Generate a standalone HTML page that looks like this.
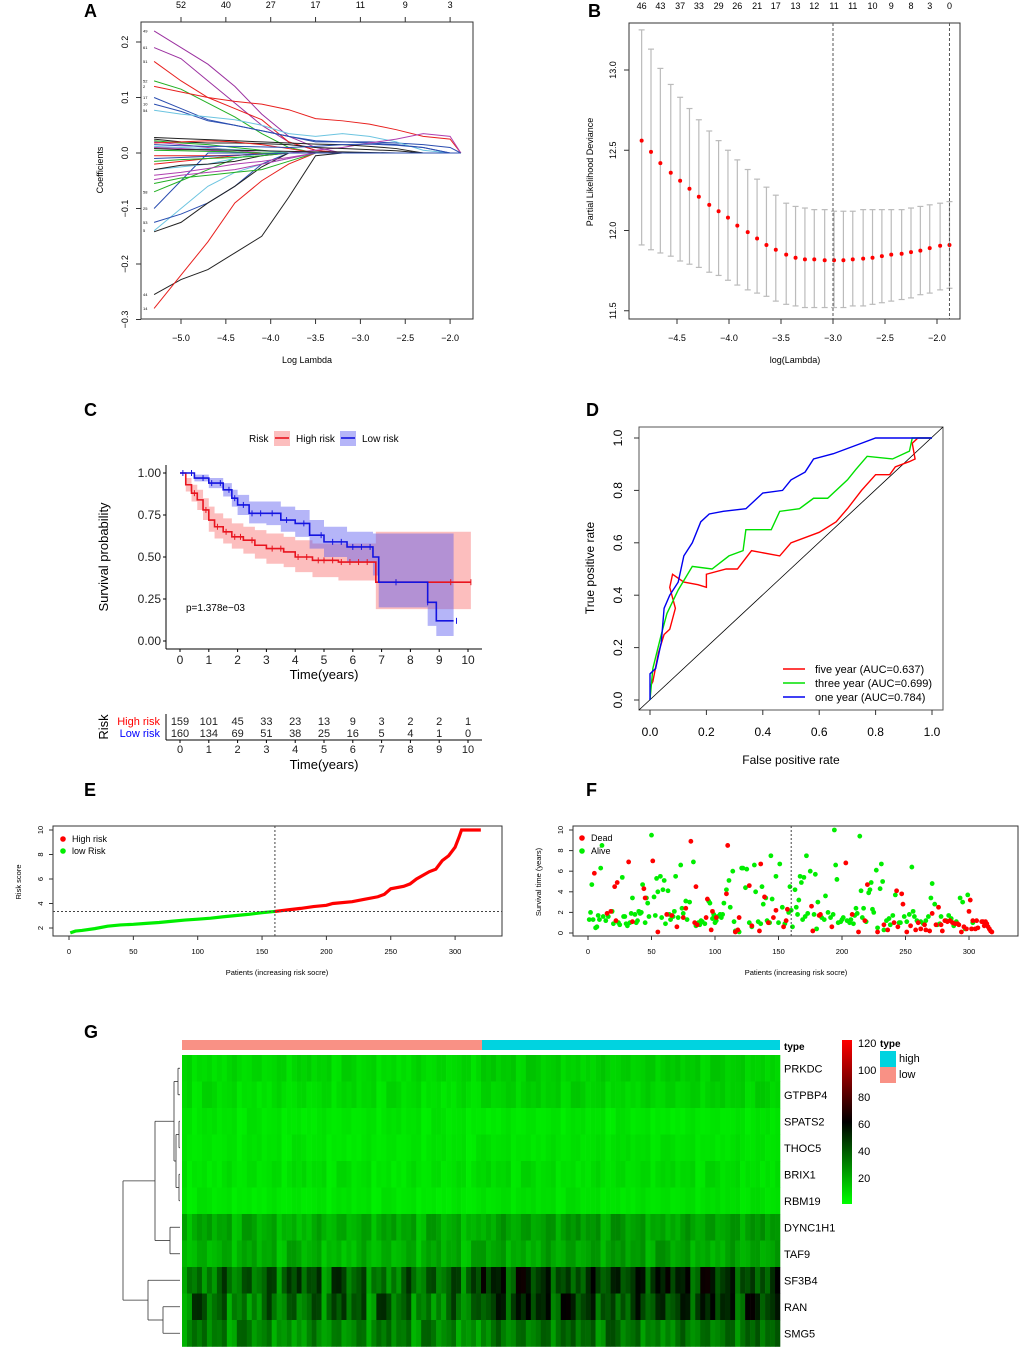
<!DOCTYPE html>
<html><head><meta charset="utf-8"><style>
html,body{margin:0;padding:0;background:#fff;}
svg{display:block;font-family:"Liberation Sans",Arial,sans-serif;}
</style></head><body>
<svg id="fig" width="1020" height="1347" viewBox="0 0 1020 1347" xmlns="http://www.w3.org/2000/svg"></svg>
<script>
// ---------- DATA ----------
// Panel A
const aLambda=[-5.3,-5.0,-4.7,-4.4,-4.1,-3.8,-3.5,-3.2,-2.9,-2.6,-2.3,-2.0,-1.88];
const aTopLabels=["52","40","27","17","11","9","3"];
const aCoefs=[
 {c:"#9b30a0",v:[0.22,0.19,0.16,0.12,0.07,0.03,0.01,0,0,0,0,0,0]},
 {c:"#9b30a0",v:[0.19,0.17,0.13,0.09,0.05,0.02,0.005,0,0,0,0,0,0]},
 {c:"#e8201e",v:[0.165,0.13,0.10,0.08,0.06,0.02,0.005,0,0,0,0,0,0]},
 {c:"#22b022",v:[0.13,0.115,0.09,0.065,0.035,0.01,0,0,0,0,0,0,0]},
 {c:"#e8201e",v:[0.12,0.11,0.10,0.093,0.088,0.078,0.062,0.058,0.052,0.042,0.03,0.025,0]},
 {c:"#2a4db0",v:[0.10,0.08,0.06,0.05,0.04,0.03,0.022,0.02,0.018,0.015,0.01,0,0]},
 {c:"#2a4db0",v:[0.088,0.075,0.058,0.05,0.04,0.03,0.02,0.02,0.02,0.018,0.015,0.01,0]},
 {c:"#6cc4e0",v:[0.077,0.07,0.065,0.06,0.05,0.035,0.03,0.035,0.03,0.02,0.005,0,0]},
 {c:"#b040b0",v:[0.02,0.015,0.01,0.005,0,0,0.005,0.01,0.018,0.025,0.035,0.03,0]},
 {c:"#222222",v:[-0.255,-0.228,-0.21,-0.18,-0.15,-0.08,-0.005,0,0,0,0,0,0]},
 {c:"#e8201e",v:[-0.28,-0.22,-0.16,-0.09,-0.05,-0.02,0,0,0,0,0,0,0]},
 {c:"#6cc4e0",v:[-0.14,-0.1,-0.06,-0.035,-0.02,-0.01,0,0,0,0,0,0,0]},
 {c:"#2a4db0",v:[-0.125,-0.11,-0.09,-0.06,-0.02,0,0,0,0,0,0,0,0]},
 {c:"#222222",v:[-0.142,-0.125,-0.09,-0.06,-0.025,0,0,0,0,0,0,0,0]},
 {c:"#2a4db0",v:[-0.1,-0.05,0,0,0,0,0,0,0,0,0,0,0]},
 {c:"#22b022",v:[-0.07,-0.05,-0.03,-0.01,0,0,0,0,0,0,0,0,0]},
 {c:"#22b022",v:[-0.055,-0.045,-0.04,-0.035,-0.03,-0.015,0,0,0,0,0,0,0]},
 {c:"#b040b0",v:[-0.048,-0.04,-0.035,-0.03,-0.02,-0.01,0,0,0,0,0,0,0]},
 {c:"#b040b0",v:[-0.04,-0.035,-0.028,-0.02,-0.015,-0.008,0,0,0,0,0,0,0]},
 {c:"#6cc4e0",v:[-0.03,-0.025,-0.02,-0.01,0,0,0,0,0,0,0,0,0]},
 {c:"#222222",v:[-0.03,-0.022,-0.02,-0.015,-0.005,0,0,0,0,0,0,0,0]},
 {c:"#e8201e",v:[-0.02,-0.015,-0.01,-0.005,0,0,0,0,0,0,0,0,0]},
 {c:"#22b022",v:[-0.015,-0.012,-0.01,-0.008,-0.005,0,0,0,0,0,0,0,0]},
 {c:"#e8201e",v:[-0.005,-0.005,-0.005,-0.004,-0.002,0,0,0,0,0,0,0,0]},
 {c:"#222222",v:[0.028,0.026,0.024,0.022,0.02,0.018,0.016,0.015,0.012,0.008,0,0,0]},
 {c:"#222222",v:[0.025,0.02,0.018,0.018,0.017,0.015,0.01,0.008,0.006,0.004,0,0,0]},
 {c:"#22b022",v:[0.022,0.018,0.015,0.01,0.005,0,0,0,0,0,0,0,0]},
 {c:"#e8201e",v:[0.018,0.02,0.022,0.02,0.015,0.008,0,0,0,0,0,0,0]},
 {c:"#2a4db0",v:[0.015,0.013,0.012,0.012,0.011,0.01,0.012,0.015,0.016,0.014,0.01,0,0]},
 {c:"#6cc4e0",v:[0.012,0.01,0.008,0.006,0.004,0,0,0,0,0,0,0,0]},
 {c:"#b040b0",v:[0.01,0.008,0.005,0.002,0,0,0,0,0,0,0,0,0]},
 {c:"#222222",v:[0.008,0.006,0.006,0.005,0.004,0.003,0.002,0.002,0.001,0,0,0,0]},
 {c:"#22b022",v:[0.005,0.004,0.003,0.002,0,0,0,0,0,0,0,0,0]},
 {c:"#2a4db0",v:[-0.01,-0.008,-0.006,-0.004,-0.002,0,0,0,0,0,0,0,0]}
];
const aSideLabels=["49","61","51","52","2","17","10","54","25","53","5","44","14","58"];
const aSideVals=[0.22,0.19,0.165,0.13,0.12,0.10,0.088,0.077,-0.1,-0.125,-0.14,-0.255,-0.28,-0.07];
// Panel B
const bLambda=[-4.84,-4.75,-4.66,-4.56,-4.47,-4.38,-4.29,-4.19,-4.10,-4.01,-3.92,-3.82,-3.73,-3.64,-3.55,-3.45,-3.36,-3.27,-3.18,-3.08,-2.99,-2.90,-2.81,-2.71,-2.62,-2.53,-2.44,-2.34,-2.25,-2.16,-2.07,-1.97,-1.88];
const bMean=[12.56,12.49,12.42,12.36,12.31,12.26,12.21,12.16,12.12,12.08,12.03,11.99,11.95,11.91,11.88,11.85,11.83,11.82,11.82,11.815,11.815,11.815,11.82,11.825,11.83,11.84,11.85,11.855,11.865,11.875,11.89,11.905,11.91];
const bUpper=[13.25,13.13,13.01,12.91,12.83,12.76,12.69,12.62,12.56,12.50,12.44,12.38,12.32,12.27,12.22,12.17,12.15,12.14,12.13,12.13,12.12,12.12,12.12,12.13,12.13,12.13,12.13,12.13,12.14,12.15,12.16,12.17,12.18];
const bLower=[11.91,11.88,11.86,11.84,11.81,11.79,11.77,11.74,11.72,11.69,11.66,11.63,11.61,11.59,11.56,11.54,11.53,11.52,11.52,11.52,11.52,11.52,11.53,11.53,11.54,11.55,11.56,11.57,11.58,11.60,11.61,11.63,11.64];
const bTopLabels=["46","43","37","33","29","26","21","17","13","12","11","11","10","9","8","3","0"];
// Panel C
const cHighT=[0,0.2,0.4,0.6,0.8,1.0,1.2,1.5,1.8,2.2,2.6,3.0,3.6,4.0,4.6,5.5,6.8,10.1];
const cHighS=[1,0.93,0.88,0.84,0.78,0.72,0.68,0.65,0.62,0.6,0.57,0.55,0.53,0.5,0.48,0.47,0.35,0.35];
const cHighLo=[1,0.89,0.83,0.78,0.72,0.65,0.61,0.58,0.55,0.52,0.49,0.46,0.44,0.41,0.38,0.36,0.19,0.19];
const cHighHi=[1,0.97,0.93,0.9,0.85,0.8,0.76,0.73,0.7,0.68,0.66,0.64,0.62,0.6,0.58,0.58,0.65,0.65];
const cLowT=[0,0.5,1.0,1.5,1.8,2.0,2.4,3.0,3.5,4.0,4.5,5.0,5.8,6.7,6.9,8.6,8.9,9.5];
const cLowS=[1,0.97,0.94,0.9,0.85,0.81,0.76,0.76,0.72,0.70,0.63,0.59,0.56,0.5,0.35,0.23,0.12,0.12];
const cLowLo=[1,0.95,0.91,0.86,0.8,0.75,0.7,0.69,0.65,0.62,0.55,0.5,0.47,0.39,0.2,0.09,0.03,0.03];
const cLowHi=[1,0.99,0.97,0.94,0.9,0.87,0.83,0.83,0.8,0.78,0.72,0.68,0.65,0.64,0.64,0.64,0.64,0.64];
const cHighCens=[0.5,0.9,1.3,1.6,1.9,2.1,2.5,3.2,3.5,4.1,4.4,4.8,5.0,5.3,5.6,5.9,6.2,6.5,7.5,9.4,10.1];
const cLowCens=[0.1,0.4,0.8,1.1,1.4,1.7,1.9,2.2,2.5,2.8,3.2,3.7,4.3,4.9,5.3,5.6,6.0,6.3,6.6,7.5,8.6,9.6];
const cRiskHigh=["159","101","45","33","23","13","9","3","2","2","1"];
const cRiskLow=["160","134","69","51","38","25","16","5","4","1","0"];
// Panel D
const dBlueF=[0,0,0.02,0.04,0.05,0.07,0.1,0.12,0.15,0.18,0.21,0.26,0.34,0.4,0.47,0.5,0.55,0.58,0.65,0.7,0.75,0.8,1];
const dBlueT=[0,0.1,0.12,0.22,0.35,0.4,0.45,0.55,0.6,0.68,0.71,0.72,0.73,0.79,0.8,0.84,0.87,0.92,0.94,0.96,0.98,1,1];
const dGreenF=[0,0.01,0.04,0.06,0.1,0.15,0.22,0.28,0.33,0.34,0.43,0.46,0.53,0.58,0.63,0.7,0.73,0.77,0.86,0.92,0.93,1];
const dGreenT=[0,0.12,0.25,0.33,0.42,0.51,0.5,0.55,0.57,0.65,0.65,0.72,0.73,0.77,0.77,0.84,0.88,0.93,0.92,0.95,1,1];
const dRedF=[0,0.01,0.03,0.05,0.07,0.09,0.07,0.08,0.12,0.17,0.2,0.2,0.27,0.31,0.36,0.46,0.5,0.6,0.66,0.7,0.75,0.8,0.85,0.87,0.92,0.94,0.93,0.95,1];
const dRedT=[0.05,0.07,0.18,0.25,0.27,0.35,0.43,0.48,0.45,0.44,0.43,0.48,0.5,0.5,0.57,0.55,0.6,0.64,0.68,0.73,0.8,0.86,0.86,0.89,0.91,0.92,0.98,1,1];
const dLegend=["five year (AUC=0.637)","three year (AUC=0.699)","one year (AUC=0.784)"];
// Panel E
const ePatient=[1,5,10,20,30,40,50,60,70,80,90,100,110,120,130,140,150,160,170,180,190,200,205,220,230,240,245,250,260,265,270,280,285,290,295,300,303,305,320];
const eScore=[1.6,1.75,1.8,1.95,2.15,2.25,2.3,2.38,2.45,2.55,2.65,2.72,2.8,2.92,3.02,3.12,3.25,3.35,3.48,3.6,3.75,3.85,4.0,4.15,4.35,4.55,4.75,5.2,5.4,5.6,6.0,6.6,6.8,7.5,7.9,8.6,9.4,10.0,10.0];
// Panel F
const fAlive=[[3,4.7],[2,2.0],[1,1.3],[4,1.3],[6,0.5],[7,0.6],[8,1.7],[9,1.3],[10,6.3],[11,8.5],[12,1.6],[14,1.2],[16,1.6],[19,2.1],[20,0.9],[24,1.0],[25,0.8],[27,5.4],[28,1.6],[29,1.6],[30,0.9],[31,0.7],[33,1.0],[34,1.9],[35,3.4],[37,1.8],[38,1.0],[39,1.2],[40,2.1],[41,1.9],[42,2.0],[43,4.7],[45,1.0],[46,3.4],[47,2.9],[48,1.6],[50,9.5],[52,3.5],[53,1.7],[54,5.3],[55,4.0],[57,5.5],[58,1.5],[59,4.2],[60,5.1],[61,0.9],[63,4.1],[64,1.8],[65,1.3],[67,1.6],[68,2.1],[69,5.5],[71,1.5],[73,6.6],[74,2.4],[75,1.9],[77,3.1],[78,1.3],[80,3.0],[83,6.9],[85,0.7],[87,1.0],[88,0.8],[89,1.2],[90,1.1],[92,0.9],[95,3.1],[96,2.9],[98,1.4],[99,1.8],[100,1.0],[101,1.2],[102,1.6],[104,1.8],[105,1.5],[106,1.8],[107,2.9],[109,4.2],[111,5.1],[112,2.5],[114,6.0],[115,1.1],[116,0.2],[119,0.1],[121,6.3],[122,6.3],[124,4.4],[125,6.2],[127,1.0],[129,0.6],[131,6.6],[132,4.0],[134,1.1],[136,0.9],[137,4.5],[138,2.8],[140,3.4],[141,1.2],[143,1.0],[144,7.5],[145,3.3],[148,5.5],[150,1.0],[151,6.7],[153,2.5],[155,0.9],[158,2.0],[159,4.5],[160,2.2],[161,0.6],[163,4.2],[164,2.5],[165,1.8],[166,3.2],[167,5.5],[168,4.9],[169,1.3],[170,5.4],[171,1.6],[172,7.5],[173,1.9],[175,6.0],[178,1.8],[179,5.7],[180,0.4],[181,3.0],[184,1.5],[186,1.3],[187,3.6],[189,2.0],[191,1.5],[193,1.8],[194,10.0],[195,6.6],[196,5.2],[197,1.0],[199,1.1],[200,1.3],[201,1.5],[204,1.2],[206,1.0],[207,1.3],[209,0.9],[210,1.7],[211,2.4],[212,1.9],[214,9.4],[215,4.1],[216,1.5],[217,2.4],[219,1.1],[221,3.9],[222,4.2],[223,4.9],[224,2.3],[225,2.0],[227,6.1],[228,0.5],[230,4.3],[231,6.7],[232,5.0],[233,0.3],[235,1.2],[237,1.4],[238,0.8],[240,1.7],[242,3.7],[245,1.0],[246,1.0],[249,1.6],[251,1.1],[253,1.8],[255,6.4],[256,2.1],[257,1.6],[259,1.2],[262,1.1],[264,0.9],[266,1.2],[268,1.6],[270,3.4],[271,4.8],[273,2.8],[275,0.8],[277,0.9],[278,1.6],[282,1.2],[284,1.7],[286,1.4],[288,0.7],[290,1.1],[293,3.4],[295,3.0],[297,0.4],[299,3.7],[303,1.0]];
const fDead=[[5,5.8],[15,1.9],[18,2.1],[21,4.5],[22,1.2],[23,4.9],[32,6.9],[35,1.1],[44,4.3],[45,3.4],[51,7.0],[55,0.1],[62,1.8],[66,1.7],[70,0.6],[75,1.5],[77,2.4],[81,8.9],[84,1.0],[85,4.5],[86,0.8],[93,1.5],[94,3.3],[97,0.3],[98,2.1],[101,1.5],[109,3.8],[110,8.5],[116,0.1],[118,0.3],[119,1.5],[127,4.6],[129,0.7],[135,0.2],[136,6.7],[139,3.5],[142,1.0],[146,1.5],[148,2.2],[154,0.6],[156,1.2],[157,2.3],[176,2.6],[177,0.2],[182,1.7],[183,1.8],[192,0.6],[203,6.8],[208,1.8],[213,0.1],[218,1.2],[220,4.7],[228,0.1],[233,0.8],[236,0.3],[241,1.0],[243,4.1],[244,0.6],[247,3.8],[248,2.8],[251,0.1],[254,0.7],[258,0.3],[260,1.0],[262,0.4],[265,0.8],[266,0.3],[269,0.2],[271,1.9],[274,0.8],[276,2.5],[278,0.8],[279,0.2],[281,1.2],[283,1.1],[285,1.2],[287,1.0],[289,0.9],[291,0.9],[292,0.8],[294,0.1],[296,0.6],[298,0.4],[300,2.1],[301,3.2],[302,0.4],[303,1.2],[305,0.4],[306,1.2],[307,0.5],[310,1.1],[311,1.1],[312,0.7],[313,1.1],[314,0.9],[315,0.6],[316,0.4],[317,0.2],[318,0.1]];
// Panel G
const gGenes=["PRKDC","GTPBP4","SPATS2","THOC5","BRIX1","RBM19","DYNC1H1","TAF9","SF3B4","RAN","SMG5"];
const gLowBase=[13,12,10,10,11,10,22,21,38,36,30];
const gHighBase=[15,14,10,11,12,11,25,24,48,46,34];
const gSpread=[3,3,2,2,3,2,6,6,16,16,10];
const gNoise=[0.2,-0.5,0.9,-0.1,0.4,-0.8,0.1,0.6,-0.3,0.95,-0.6,0.3,-0.2,0.7,-0.9,0.0,0.5,-0.4,0.8,-0.7,0.25,-0.15,0.65,-0.45,0.35,-0.95,0.15,0.85,-0.35,0.55,-0.05,0.45,-0.65,0.75,-0.25,0.05,-0.85];
const gKeyTicks=[20,40,60,80,100,120];

// ---------- HELPERS ----------
const NS="http://www.w3.org/2000/svg";
const svg=document.getElementById("fig");
function mk(tag,attrs,parent){const e=document.createElementNS(NS,tag);for(const k in attrs)e.setAttribute(k,attrs[k]);(parent||svg).appendChild(e);return e;}
function txt(x,y,s,size,attrs,parent){const e=mk("text",Object.assign({x:x,y:y,"font-size":size,fill:"#000"},attrs||{}),parent);e.textContent=s;return e;}
function grp(name){const g=mk("g",{});return g;}

// Panel letters
[["A",84,17],["B",588,17],["C",84,416],["D",586,416],["E",84,796],["F",586,796],["G",84,1038]].forEach(p=>{
 const t=txt(p[1],p[2],p[0],18,{"font-weight":"bold"});
 
 
});

// ---------- PANEL A ----------
(function(){
 const g=grp("panel-a-lasso-coefficients");
 const X=v=>181+(v+5)*89.7, Y=v=>153-v*555;
 const box=mk("rect",{x:141,y:22,width:332,height:297,fill:"none",stroke:"#333","stroke-width":1},g);
 
 aCoefs.forEach((s,i)=>{
  const pts=aLambda.map((l,j)=>X(l)+","+Y(s.v[j])).join(" ");
  const p=mk("polyline",{points:pts,fill:"none",stroke:s.c,"stroke-width":1},g);
  
 });
 [-5,-4.5,-4,-3.5,-3,-2.5,-2].forEach((v,i)=>{
  mk("line",{x1:X(v),x2:X(v),y1:319,y2:324,stroke:"#333"},g);
  txt(X(v),341,v.toFixed(1).replace("-","−"),9,{"text-anchor":"middle"},g);
  mk("line",{x1:X(v),x2:X(v),y1:22,y2:17,stroke:"#333"},g);
  txt(X(v),8,aTopLabels[i],9,{"text-anchor":"middle"},g);
 });
 [0.2,0.1,0,-0.1,-0.2,-0.3].forEach(v=>{
  mk("line",{x1:141,x2:136,y1:Y(v),y2:Y(v),stroke:"#333"},g);
  txt(0,0,v.toFixed(1).replace("-","−"),9,{"text-anchor":"middle",transform:`translate(128,${Y(v)}) rotate(-90)`},g);
 });
 aSideLabels.forEach((s,i)=>txt(143,Y(aSideVals[i])+1.5,s,4,{},g));
 txt(0,0,"Coefficients",9,{"text-anchor":"middle",transform:"translate(103,170) rotate(-90)"},g);
 txt(307,363,"Log Lambda",9,{"text-anchor":"middle"},g);
})();

// ---------- PANEL B ----------
(function(){
 const g=grp("panel-b-cross-validation");
 const X=v=>677+(v+4.5)*104, Y=v=>70+(13-v)*160.5;
 const box=mk("rect",{x:629,y:23,width:331,height:296,fill:"none",stroke:"#333"},g);
 
 bLambda.forEach((l,i)=>{
  const x=X(l);
  mk("line",{x1:x,x2:x,y1:Y(bUpper[i]),y2:Y(bLower[i]),stroke:"#bbb","stroke-width":1.2},g);
  mk("line",{x1:x-3,x2:x+3,y1:Y(bUpper[i]),y2:Y(bUpper[i]),stroke:"#bbb","stroke-width":1.2},g);
  mk("line",{x1:x-3,x2:x+3,y1:Y(bLower[i]),y2:Y(bLower[i]),stroke:"#bbb","stroke-width":1.2},g);
 });
 bLambda.forEach((l,i)=>{
  const c=mk("circle",{cx:X(l),cy:Y(bMean[i]),r:2,fill:"#f00"},g);
  
 });
 [-3.0,-1.88].forEach(v=>mk("line",{x1:X(v),x2:X(v),y1:23,y2:319,stroke:"#555","stroke-dasharray":"3,2"},g));
 bTopLabels.forEach((s,i)=>txt(X(bLambda[i*2]),9,s,9,{"text-anchor":"middle"},g));
 [-4.5,-4,-3.5,-3,-2.5,-2].forEach(v=>{
  mk("line",{x1:X(v),x2:X(v),y1:319,y2:324,stroke:"#333"},g);
  txt(X(v),341,v.toFixed(1).replace("-","−"),9,{"text-anchor":"middle"},g);
 });
 [11.5,12,12.5,13].forEach(v=>{
  mk("line",{x1:629,x2:624,y1:Y(v),y2:Y(v),stroke:"#333"},g);
  txt(0,0,v.toFixed(1),9,{"text-anchor":"middle",transform:`translate(616,${Y(v)}) rotate(-90)`},g);
 });
 txt(0,0,"Partial Likelihood Deviance",9,{"text-anchor":"middle",transform:"translate(593,172) rotate(-90)"},g);
 txt(795,363,"log(Lambda)",9,{"text-anchor":"middle"},g);
})();

// ---------- PANEL C ----------
(function(){
 const g=grp("panel-c-km-survival");
 const X=t=>180+t*28.8, Y=s=>641-s*168;
 function band(T,lo,hi,col,name){
  let up="",dn="";
  T.forEach((t,i)=>{const t2=i<T.length-1?T[i+1]:t;up+=`${X(t)},${Y(hi[i])} ${X(t2)},${Y(hi[i])} `;});
  for(let i=T.length-1;i>=0;i--){const t2=i<T.length-1?T[i+1]:T[i];dn+=`${X(t2)},${Y(lo[i])} ${X(T[i])},${Y(lo[i])} `;}
  const p=mk("polygon",{points:up+dn,fill:col},g);
  
 }
 function step(T,S,col,name){
  let pts="";T.forEach((t,i)=>{const t2=i<T.length-1?T[i+1]:t;pts+=`${X(t)},${Y(S[i])} ${X(t2)},${Y(S[i])} `;});
  const p=mk("polyline",{points:pts,fill:"none",stroke:col,"stroke-width":1.6},g);
  
 }
 function sAt(T,S,t){let s=S[0];T.forEach((tt,i)=>{if(tt<=t)s=S[i];});return s;}
 band(cHighT,cHighLo,cHighHi,"rgba(248,110,110,0.45)","high-risk-ci");
 band(cLowT,cLowLo,cLowHi,"rgba(90,90,240,0.45)","low-risk-ci");
 step(cHighT,cHighS,"#e8141e","high-risk-curve");
 step(cLowT,cLowS,"#1414e0","low-risk-curve");
 cHighCens.forEach(t=>mk("line",{x1:X(t),x2:X(t),y1:Y(sAt(cHighT,cHighS,t))-3,y2:Y(sAt(cHighT,cHighS,t))+3,stroke:"#e8141e"},g));
 cLowCens.forEach(t=>mk("line",{x1:X(t),x2:X(t),y1:Y(sAt(cLowT,cLowS,t))-3,y2:Y(sAt(cLowT,cLowS,t))+3,stroke:"#1414e0"},g));
 mk("line",{x1:166,x2:166,y1:465,y2:649,stroke:"#000"},g);
 mk("line",{x1:166,x2:482,y1:649,y2:649,stroke:"#000"},g);
 [0,0.25,0.5,0.75,1].forEach(v=>{mk("line",{x1:163,x2:166,y1:Y(v),y2:Y(v),stroke:"#000"},g);txt(161,Y(v)+4,v.toFixed(2),12,{"text-anchor":"end",fill:"#222"},g);});
 for(let t=0;t<=10;t++){mk("line",{x1:X(t),x2:X(t),y1:649,y2:652,stroke:"#000"},g);txt(X(t),664,String(t),12,{"text-anchor":"middle",fill:"#222"},g);}
 txt(324,679,"Time(years)",13,{"text-anchor":"middle"},g);
 txt(0,0,"Survival probability",13,{"text-anchor":"middle",transform:"translate(108,557) rotate(-90)"},g);
 txt(186,611,"p=1.378e−03",10,{},g);
 const lg=grp("km-legend");
 txt(249,442,"Risk",10,{},lg);
 mk("rect",{x:274,y:431,width:16,height:15,fill:"rgba(248,110,110,0.45)"},lg);
 mk("line",{x1:275,x2:289,y1:438,y2:438,stroke:"#e8141e","stroke-width":1.6},lg);
 txt(296,442,"High risk",10,{},lg);
 mk("rect",{x:340,y:431,width:16,height:15,fill:"rgba(90,90,240,0.45)"},lg);
 mk("line",{x1:341,x2:355,y1:438,y2:438,stroke:"#1414e0","stroke-width":1.6},lg);
 txt(362,442,"Low risk",10,{},lg);
 const rt=grp("risk-table");
 txt(0,0,"Risk",13,{"text-anchor":"middle",transform:"translate(108,727) rotate(-90)"},rt);
 txt(160,725,"High risk",11,{"text-anchor":"end",fill:"#f00"},rt);
 txt(160,737,"Low risk",11,{"text-anchor":"end",fill:"#00f"},rt);
 for(let t=0;t<=10;t++){
  txt(X(t),725,cRiskHigh[t],11,{"text-anchor":"middle",fill:"#222"},rt);
  txt(X(t),737,cRiskLow[t],11,{"text-anchor":"middle",fill:"#222"},rt);
  mk("line",{x1:X(t),x2:X(t),y1:740,y2:743,stroke:"#000"},rt);
  txt(X(t),753,String(t),11,{"text-anchor":"middle",fill:"#222"},rt);
 }
 mk("line",{x1:166,x2:482,y1:740,y2:740,stroke:"#000"},rt);
 mk("line",{x1:166,x2:166,y1:714,y2:740,stroke:"#000"},rt);
 txt(324,769,"Time(years)",13,{"text-anchor":"middle"},rt);
})();

// ---------- PANEL D ----------
(function(){
 const g=grp("panel-d-roc");
 const X=v=>650+v*282, Y=v=>700-v*262;
 const box=mk("rect",{x:639,y:427,width:304,height:283,fill:"none",stroke:"#555"},g);
 
 mk("line",{x1:639,y1:710,x2:943,y2:427,stroke:"#000","stroke-width":0.8},g);
 function curve(F,T,col,name){const p=mk("polyline",{points:F.map((f,i)=>X(f)+","+Y(T[i])).join(" "),fill:"none",stroke:col,"stroke-width":1.4},g);}
 curve(dRedF,dRedT,"#f00","roc-five-year");
 curve(dGreenF,dGreenT,"#00e000","roc-three-year");
 curve(dBlueF,dBlueT,"#0000f0","roc-one-year");
 [0,0.2,0.4,0.6,0.8,1].forEach(v=>{
  mk("line",{x1:X(v),x2:X(v),y1:710,y2:715,stroke:"#333"},g);
  txt(X(v),736,v.toFixed(1),12,{"text-anchor":"middle"},g);
  mk("line",{x1:639,x2:634,y1:Y(v),y2:Y(v),stroke:"#333"},g);
  txt(0,0,v.toFixed(1),12,{"text-anchor":"middle",transform:`translate(622,${Y(v)}) rotate(-90)`},g);
 });
 txt(0,0,"True positive rate",12,{"text-anchor":"middle",transform:"translate(594,568) rotate(-90)"},g);
 txt(791,764,"False positive rate",12,{"text-anchor":"middle"},g);
 const lg=grp("roc-legend");
 ["#f00","#00e000","#0000f0"].forEach((c,i)=>{
  mk("line",{x1:783,x2:805,y1:669+i*14,y2:669+i*14,stroke:c,"stroke-width":1.4},lg);
  txt(815,673+i*14,dLegend[i],11,{},lg);
 });
})();

// ---------- PANEL E ----------
(function(){
 const g=grp("panel-e-risk-score");
 const X=p=>69+p*1.287, Y=v=>830+(10-v)*12.25;
 const box=mk("rect",{x:53,y:826,width:449,height:110,fill:"none",stroke:"#333"},g);
 
 const lowIdx=ePatient.filter(p=>p<=160).length;
 const lowPts=ePatient.slice(0,lowIdx).map((p,i)=>X(p)+","+Y(eScore[i])).join(" ");
 const highPts=ePatient.slice(lowIdx-1).map((p,i)=>X(p)+","+Y(eScore[i+lowIdx-1])).join(" ");
 const l1=mk("polyline",{points:lowPts,fill:"none",stroke:"#00ee00","stroke-width":3.2},g);
 
 const l2=mk("polyline",{points:highPts,fill:"none",stroke:"#f00","stroke-width":3.2},g);
 
 mk("line",{x1:X(160),x2:X(160),y1:826,y2:936,stroke:"#444","stroke-dasharray":"2,2"},g);
 mk("line",{x1:53,x2:502,y1:Y(3.35),y2:Y(3.35),stroke:"#444","stroke-dasharray":"2,2"},g);
 [0,50,100,150,200,250,300].forEach(v=>{mk("line",{x1:X(v),x2:X(v),y1:936,y2:940,stroke:"#333"},g);txt(X(v),954,String(v),7.5,{"text-anchor":"middle"},g);});
 [2,4,6,8,10].forEach(v=>{mk("line",{x1:53,x2:49,y1:Y(v),y2:Y(v),stroke:"#333"},g);txt(0,0,String(v),7.5,{"text-anchor":"middle",transform:`translate(43,${Y(v)}) rotate(-90)`},g);});
 txt(0,0,"Risk score",7.5,{"text-anchor":"middle",transform:"translate(21,882) rotate(-90)"},g);
 txt(277,975,"Patients (increasing risk socre)",7.5,{"text-anchor":"middle"},g);
 mk("circle",{cx:63,cy:839,r:2.8,fill:"#f00"},g);txt(72,842,"High risk",9,{},g);
 mk("circle",{cx:63,cy:851,r:2.8,fill:"#00ee00"},g);txt(72,854,"low Risk",9,{},g);
})();

// ---------- PANEL F ----------
(function(){
 const g=grp("panel-f-survival-status");
 const X=p=>588+p*1.27, Y=v=>933-v*10.3;
 const box=mk("rect",{x:573,y:826,width:445,height:110,fill:"none",stroke:"#333"},g);
 
 fAlive.forEach(d=>{const c=mk("circle",{cx:X(d[0]),cy:Y(d[1]),r:2.4,fill:"#00ee00"},g);});
 fDead.forEach(d=>{const c=mk("circle",{cx:X(d[0]),cy:Y(d[1]),r:2.4,fill:"#f00"},g);});
 mk("line",{x1:X(160),x2:X(160),y1:826,y2:936,stroke:"#444","stroke-dasharray":"2,2"},g);
 [0,50,100,150,200,250,300].forEach(v=>{mk("line",{x1:X(v),x2:X(v),y1:936,y2:940,stroke:"#333"},g);txt(X(v),954,String(v),7.5,{"text-anchor":"middle"},g);});
 [0,2,4,6,8,10].forEach(v=>{mk("line",{x1:573,x2:569,y1:Y(v),y2:Y(v),stroke:"#333"},g);txt(0,0,String(v),7.5,{"text-anchor":"middle",transform:`translate(563,${Y(v)}) rotate(-90)`},g);});
 txt(0,0,"Survival time (years)",7.5,{"text-anchor":"middle",transform:"translate(541,882) rotate(-90)"},g);
 txt(796,975,"Patients (increasing risk socre)",7.5,{"text-anchor":"middle"},g);
 mk("circle",{cx:582,cy:838,r:2.8,fill:"#f00"},g);txt(591,841,"Dead",9,{},g);
 mk("circle",{cx:582,cy:851,r:2.8,fill:"#00ee00"},g);txt(591,854,"Alive",9,{},g);
})();

// ---------- PANEL G ----------
(function(){
 const g=grp("panel-g-heatmap");
 const x0=182,x1=780,y0=1055,rowH=26.5,nCol=120,cw=(x1-x0)/nCol;
 function col(v){
  v=Math.max(5,Math.min(125,v));
  if(v<=60){const f=Math.max(0,(v-8)/52);const gg=Math.round(240*(1-f));return `rgb(0,${gg},0)`;}
  const f=(v-60)/60;return `rgb(${Math.round(255*f)},0,0)`;
 }
 const tl=mk("rect",{x:x0,y:1040,width:300,height:10,fill:"#f99185"},g);
 
 const th=mk("rect",{x:482,y:1040,width:298,height:10,fill:"#00d3e0"},g);
 
 txt(784,1050,"type",10,{"font-weight":"bold"},g);
 gGenes.forEach((gene,r)=>{
  for(let c=0;c<nCol;c++){
   const base=c<60?gLowBase[r]:gHighBase[r];
   const n=gNoise[(c*7+r*11)%gNoise.length];
   const v=base+n*gSpread[r];
   mk("rect",{x:x0+c*cw,y:y0+r*rowH,width:cw+0.3,height:rowH+0.3,fill:col(v)},g);
  }
  const t=txt(784,y0+r*rowH+rowH/2+4,gene,11,{},g);
  
 });
 const yc=i=>y0+i*rowH+rowH/2;
 const dg=grp("row-dendrogram");
 const L=(a,b,c,d)=>mk("line",{x1:a,y1:b,x2:c,y2:d,stroke:"#333","stroke-width":0.8},dg);
 L(180,yc(0),178,yc(0));L(180,yc(1),178,yc(1));L(178,yc(0),178,yc(1));
 L(180,yc(2),179,yc(2));L(180,yc(3),179,yc(3));L(179,yc(2),179,yc(3));
 L(180,yc(4),179,yc(4));L(180,yc(5),179,yc(5));L(179,yc(4),179,yc(5));
 const m23=(yc(2)+yc(3))/2,m45=(yc(4)+yc(5))/2,m01=(yc(0)+yc(1))/2;
 L(179,m23,176,m23);L(179,m45,176,m45);L(176,m23,176,m45);
 const mA=(m23+m45)/2;L(178,m01,174,m01);L(176,mA,174,mA);L(174,m01,174,mA);
 const mTop=(m01+mA)/2;
 L(180,yc(6),170,yc(6));L(180,yc(7),170,yc(7));L(170,yc(6),170,yc(7));
 const m67=(yc(6)+yc(7))/2;
 L(174,mTop,155,mTop);L(170,m67,155,m67);L(155,mTop,155,m67);
 const mU=(mTop+m67)/2;
 L(180,yc(9),163,yc(9));L(180,yc(10),163,yc(10));L(163,yc(9),163,yc(10));
 const m910=(yc(9)+yc(10))/2;
 L(180,yc(8),148,yc(8));L(163,m910,148,m910);L(148,yc(8),148,m910);
 const mL=(yc(8)+m910)/2;
 L(155,mU,123,mU);L(148,mL,123,mL);L(123,mU,123,mL);
 const kg=grp("color-key");
 const defs=mk("defs",{},kg);
 const lgr=mk("linearGradient",{id:"kgrad",x1:0,y1:1,x2:0,y2:0},defs);
 [[0,"#00ff00"],[0.5,"#000000"],[1,"#ff0000"]].forEach(s=>mk("stop",{offset:s[0],"stop-color":s[1]},lgr));
 mk("rect",{x:842,y:1040,width:10,height:164,fill:"url(#kgrad)"},kg);
 const KY=v=>1178-(v-20)*1.35;
 gKeyTicks.forEach(v=>txt(858,KY(v)+4,String(v),11,{},kg));
 const tg=grp("type-legend");
 txt(880,1047,"type",10,{"font-weight":"bold"},tg);
 mk("rect",{x:880,y:1051,width:16,height:16,fill:"#00d3e0"},tg);
 mk("rect",{x:880,y:1067,width:16,height:16,fill:"#f99185"},tg);
 txt(899,1062,"high",11,{},tg);
 txt(899,1078,"low",11,{},tg);
})();
</script>
</body></html>
